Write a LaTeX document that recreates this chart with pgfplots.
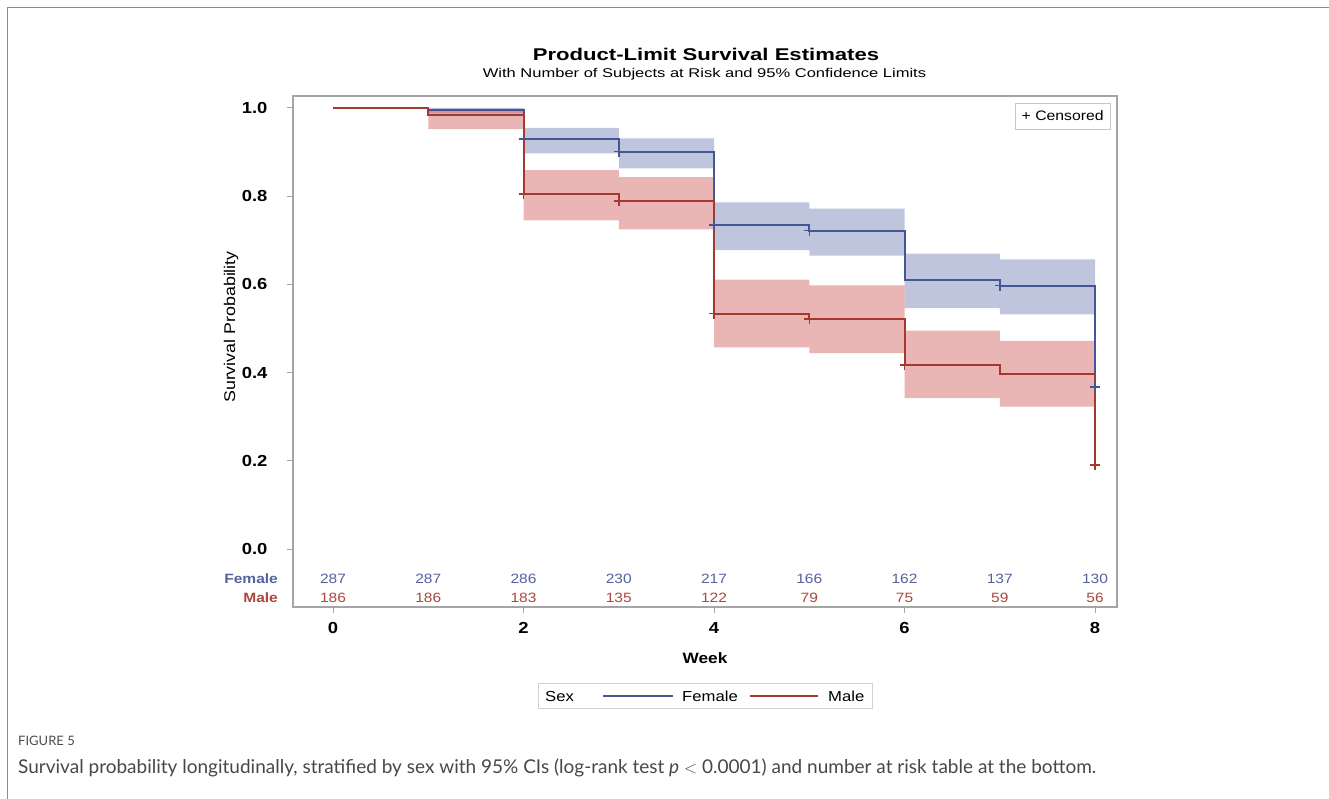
\documentclass[border=0pt]{standalone}
\usepackage{pgfplots}
\usepackage{pgfplotstable}
\pgfplotsset{compat=1.18}
\usepackage{fontspec}
\setmainfont{Liberation Sans}[FakeStretch=1.15]
\newfontfamily\titlefont{Liberation Sans}[FakeStretch=1.3]
\newfontfamily\capfont{Lato}
\definecolor{femline}{RGB}{68,86,148}
\definecolor{maleline}{RGB}{162,58,46}
\definecolor{femtext}{RGB}{84,98,158}
\definecolor{maletext}{RGB}{170,72,62}
\definecolor{femband}{RGB}{111,126,179}
\definecolor{maleband}{RGB}{208,91,91}
\definecolor{axgray}{RGB}{165,165,165}
\definecolor{framegray}{RGB}{140,140,140}

\pgfplotstableread{
x y
0 1.000
1 0.996
2 0.930
3 0.901
4 0.735
5 0.722
6 0.611
7 0.597
8 0.367
}\femKM
\pgfplotstableread{
x y
0 1.000
1 0.984
2 0.805
3 0.789
4 0.534
5 0.521
6 0.417
7 0.396
8 0.190
}\maleKM
% 95% confidence bands as step polygons (upper edge forward, lower edge back)
\pgfplotstableread{
x y
1 1.000
2 1.000
2 0.955
3 0.955
3 0.931
4 0.931
4 0.786
5 0.786
5 0.772
6 0.772
6 0.670
7 0.670
7 0.657
8 0.657
8 0.532
7 0.532
7 0.546
6 0.546
6 0.665
5 0.665
5 0.678
4 0.678
4 0.863
3 0.863
3 0.897
2 0.897
2 0.988
1 0.988
}\femCI
\pgfplotstableread{
x y
1 0.998
2 0.998
2 0.859
3 0.859
3 0.843
4 0.843
4 0.611
5 0.611
5 0.598
6 0.598
6 0.495
7 0.495
7 0.472
8 0.472
8 0.323
7 0.323
7 0.342
6 0.342
6 0.444
5 0.444
5 0.457
4 0.457
4 0.725
3 0.725
3 0.745
2 0.745
2 0.952
1 0.952
}\maleCI
\pgfplotstableread{
x y
2 0.930
3 0.901
4 0.735
5 0.722
7 0.597
8 0.367
}\femCens
\pgfplotstableread{
x y
2 0.805
3 0.789
4 0.534
5 0.521
6 0.417
8 0.190
}\maleCens
\pgfplotstableread{
x yf ym f m
0 -0.068 -0.111 287 186
1 -0.068 -0.111 287 186
2 -0.068 -0.111 286 183
3 -0.068 -0.111 230 135
4 -0.068 -0.111 217 122
5 -0.068 -0.111 166 79
6 -0.068 -0.111 162 75
7 -0.068 -0.111 137 59
8 -0.068 -0.111 130 56
}\risk

\begin{document}
\begin{tikzpicture}
\useasboundingbox (0,0) rectangle (1329pt,-798pt);
\draw[framegray, line width=1.5pt] (7.5pt,-800pt) -- (7.5pt,-7.5pt) -- (1331pt,-7.5pt);

\node[font=\titlefont\bfseries\fontsize{17}{20}\selectfont] at (706pt,-54pt) {Product-Limit Survival Estimates};
\node[font=\titlefont\fontsize{12.7}{15}\selectfont] at (704.5pt,-74pt) {With Number of Subjects at Risk and 95\% Confidence Limits};

\begin{axis}[
  at={(293pt,-607pt)}, anchor=south west,
  scale only axis, width=824pt, height=511pt,
  xmin=-0.42, xmax=8.231, ymin=-0.1315, ymax=1.0272,
  clip=false,
  axis line style={axgray, line width=1.3pt},
  tick style={axgray, line width=1pt},
  tick align=outside, major tick length=6pt,
  xtick pos=bottom, ytick pos=left,
  xtick={0,2,4,6,8}, ytick={0,0.2,0.4,0.6,0.8,1.0},
  /pgf/number format/assume math mode=true,
  yticklabel style={/pgf/number format/fixed, /pgf/number format/fixed zerofill, /pgf/number format/precision=1, xshift=-16pt},
  ticklabel style={font=\bfseries\fontsize{16}{19}\selectfont},
  xticklabel style={yshift=-6pt},
  xlabel={Week},
  xlabel style={font=\bfseries\fontsize{15}{18}\selectfont, at={(rel axis cs:0.5,0)}, anchor=center, yshift=-51pt},
  ylabel={Survival Probability},
  ylabel style={font=\fontsize{15.5}{18}\selectfont, at={(rel axis cs:0,0.548)}, anchor=center, yshift=62pt},
]
% confidence bands
\addplot[fill=femband, fill opacity=0.45, draw=none] table[x=x, y=y] {\femCI} -- cycle;
\addplot[fill=maleband, fill opacity=0.45, draw=none] table[x=x, y=y] {\maleCI} -- cycle;

% Kaplan-Meier step curves
\addplot[femline, line width=2pt, const plot, mark=none] table[x=x, y=y] {\femKM};
\addplot[maleline, line width=2pt, const plot, mark=none] table[x=x, y=y] {\maleKM};

% censored marks
\addplot[femline, only marks, mark=+, mark size=5pt, line width=1.5pt] table[x=x, y=y] {\femCens};
\addplot[maleline, only marks, mark=+, mark size=5pt, line width=1.5pt] table[x=x, y=y] {\maleCens};

% number at risk
\addplot[only marks, mark=*, mark size=0pt, nodes near coords, point meta=explicit symbolic,
  every node near coord/.append style={font=\fontsize{13.5}{15}\selectfont, text=femtext, anchor=center, inner sep=0pt}]
  table[x=x, y=yf, meta=f] {\risk};
\addplot[only marks, mark=*, mark size=0pt, nodes near coords, point meta=explicit symbolic,
  every node near coord/.append style={font=\fontsize{13.5}{15}\selectfont, text=maletext, anchor=center, inner sep=0pt}]
  table[x=x, y=ym, meta=m] {\risk};

\node[anchor=east, inner sep=0pt, font=\bfseries\fontsize{13.5}{15}\selectfont, text=femtext] at (axis cs:-0.577,-0.068) {Female};
\node[anchor=east, inner sep=0pt, font=\bfseries\fontsize{13.5}{15}\selectfont, text=maletext] at (axis cs:-0.577,-0.111) {Male};

\node[draw=gray!45, line width=0.8pt, fill=white, font=\fontsize{13.7}{16}\selectfont, minimum width=95pt, minimum height=26pt, inner sep=2pt] at (rel axis cs:0.934,0.961) {+ Censored};
\end{axis}

% legend for the strata
\draw[gray!35, line width=1pt] (538pt,-683pt) rectangle (872pt,-708pt);
\node[anchor=west, inner sep=0pt, font=\fontsize{14.5}{16}\selectfont] at (545pt,-696pt) {Sex};
\draw[femline, line width=1.5pt] (603pt,-696pt) -- (673pt,-696pt);
\node[anchor=west, inner sep=0pt, font=\fontsize{14.5}{16}\selectfont] at (682pt,-696pt) {Female};
\draw[maleline, line width=1.5pt] (750pt,-696pt) -- (818pt,-696pt);
\node[anchor=west, inner sep=0pt, font=\fontsize{14.5}{16}\selectfont] at (828pt,-696pt) {Male};

\node[anchor=west, inner sep=0pt, font=\capfont\fontsize{13}{15}\selectfont, text=black!70] at (18pt,-741pt) {FIGURE 5};
\node[anchor=west, inner sep=0pt, font=\capfont\fontsize{19}{22}\selectfont, text=black!72] at (18pt,-768pt) {Survival probability longitudinally, stratified by sex with 95\% CIs (log-rank test \textit{p} $<$ 0.0001) and number at risk table at the bottom.};
\end{tikzpicture}
\end{document}
